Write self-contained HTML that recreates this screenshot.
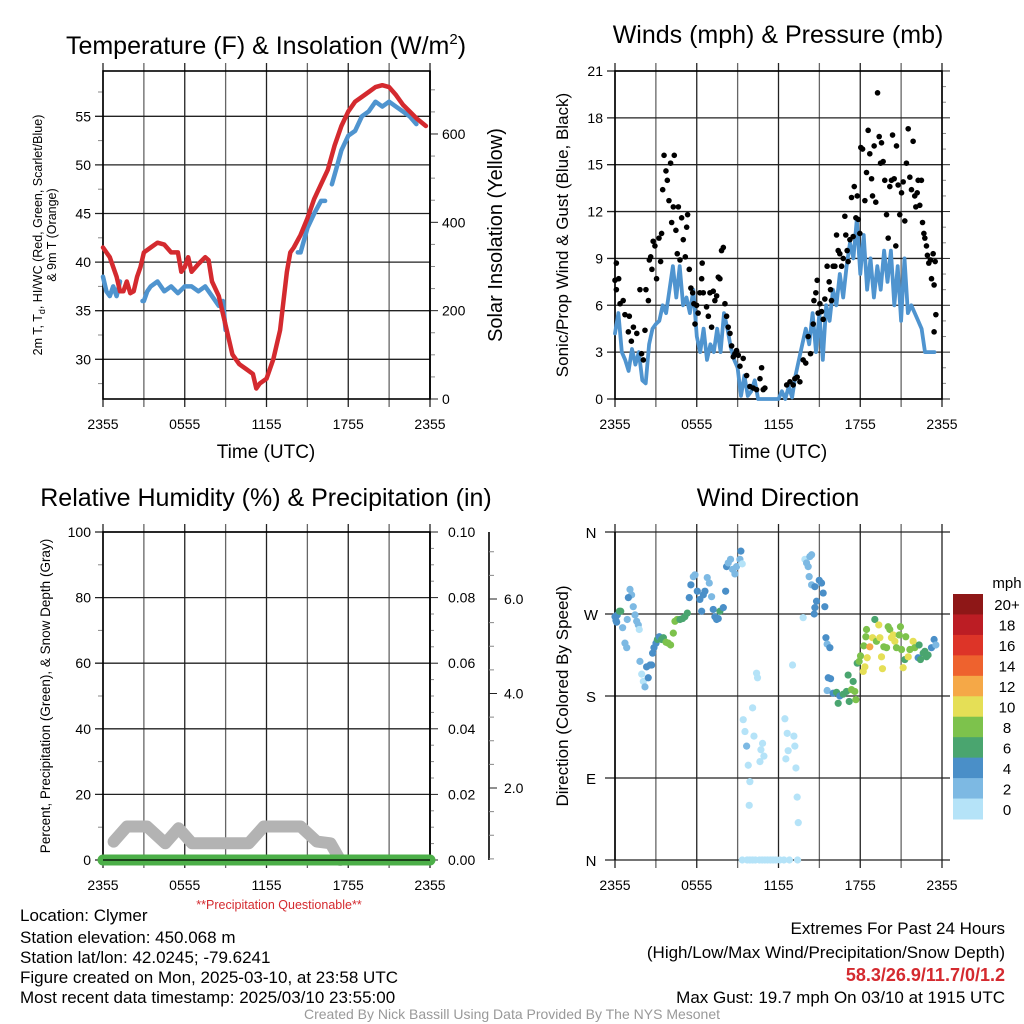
<!DOCTYPE html>
<html><head><meta charset="utf-8"><style>
html,body{margin:0;padding:0;background:#fff;}
svg{display:block;font-family:"Liberation Sans",Arial,sans-serif;}
</style></head><body>
<svg id="s" width="1024" height="1024" viewBox="0 0 1024 1024" xmlns="http://www.w3.org/2000/svg">
<g font-size="25" text-anchor="middle" fill="#000">
<text x="266" y="54">Temperature (F) &amp; Insolation (W/m<tspan font-size="15" dy="-10">2</tspan><tspan dy="10">)</tspan></text>
<text x="778" y="43">Winds (mph) &amp; Pressure (mb)</text>
<text x="266" y="506">Relative Humidity (%) &amp; Precipitation (in)</text>
<text x="778" y="506">Wind Direction</text>
</g>
<g id="layer"></g>
<g font-size="17" fill="#000">
<text x="20" y="921">Location: Clymer</text>
<text x="20" y="943">Station elevation: 450.068 m</text>
<text x="20" y="963">Station lat/lon: 42.0245; -79.6241</text>
<text x="20" y="983">Figure created on Mon, 2025-03-10, at 23:58 UTC</text>
<text x="20" y="1003">Most recent data timestamp: 2025/03/10 23:55:00</text>
<g text-anchor="end">
<text x="1005" y="934">Extremes For Past 24 Hours</text>
<text x="1005" y="958">(High/Low/Max Wind/Precipitation/Snow Depth)</text>
<text x="1005" y="981" fill="#d42a2f" font-weight="bold" font-size="18">58.3/26.9/11.7/0/1.2</text>
<text x="1005" y="1003">Max Gust: 19.7 mph On 03/10 at 1915 UTC</text>
</g>
<text x="279" y="909" font-size="12.5" fill="#d42a2f" text-anchor="middle">**Precipitation Questionable**</text>
<text x="512" y="1019" font-size="14" fill="#999" text-anchor="middle">Created By Nick Bassill Using Data Provided By The NYS Mesonet</text>
</g>
</svg>
<script>
// ---------- DATA ----------
const timeTickLabels=["2355","0555","1155","1755","2355"];
const tempHours=[0,0.25,0.5,0.75,1,1.25,1.5,1.75,2,2.25,2.5,2.75,3,3.5,4,4.5,5,5.5,5.75,6,6.25,6.5,7,7.5,7.75,8,8.5,9,9.5,10,10.5,11,11.25,11.5,12,12.5,13,13.5,13.75,14,14.5,15,15.5,16,16.5,17,17.5,18,18.5,19,19.5,20,20.5,21,21.5,22,22.5,23,23.7];
const tempValues=[41.5,41,40.5,39.5,38.5,37,37,38,36.8,37,38.5,39.5,41,41.5,42,41.8,41,41,39,39.5,40.5,39,39.8,40.5,40.2,38,36.5,33.5,30.5,29.5,29,28.5,27,27.5,28,30,33,39,41,41.5,42.8,44.5,46.5,48,49.5,52,54,55.5,56.5,57,57.5,58,58.2,58,57.2,56.2,55.5,54.8,54];
const hiwcHours=[0,0.25,0.5,0.75,1,1.25,1.4,1.75,1.8,2.25,2.35,2.9,3,3.25,3.5,4,4.5,5,5.5,6,6.5,7,7.5,8,8.5,8.8,9,9.2,14.3,14.5,15,15.5,16,16.3,16.6,16.8,17.2,17.5,18,18.5,19,19.5,20,20.5,21,21.5,22,22.5,23];
const hiwcValues=[38.5,37,36.5,37.5,36.5,38,null,35.3,null,36.8,null,36,36,37,37.5,38,37,37.5,36.8,37.5,37.5,37,37.5,36.5,35.5,36,33,null,41,41,43.5,45,46.3,46.3,null,48,50,51.5,53,53.5,55,55.5,56.5,56,56.5,56,55.5,55,54.2];
const windHours=[0,0.25,0.5,0.75,1,1.25,1.5,1.75,2,2.25,2.5,2.75,3,3.25,3.5,3.75,4,4.25,4.5,4.75,5,5.25,5.5,5.75,6,6.25,6.5,6.75,7,7.25,7.5,7.75,8,8.25,8.5,8.75,9,9.25,9.5,9.75,10,10.25,10.5,11,11.5,12,12.25,12.5,12.75,13,13.25,13.5,13.75,14,14.25,14.5,14.75,15,15.25,15.5,15.75,16,16.25,16.5,16.75,17,17.25,17.5,17.75,18,18.25,18.5,18.75,19,19.25,19.5,19.75,20,20.25,20.5,20.75,21,21.25,21.5,21.75,22,22.25,22.5,22.75,23,23.45];
const windValues=[4.2,5.5,3,2.5,1.8,3.2,2.2,3,1.2,1,3.5,4.5,4.8,5,6,5.5,7,8.5,6.5,8.5,6,6.5,5.5,7,4,3,4.5,2.5,3.5,3,4.5,3,5.5,4.5,3.3,2.5,2,0.2,1.5,0.2,0.5,1.2,0,0,0,0,0.5,0,0.8,0.1,1.5,2.5,3.5,4.5,3.5,5.5,3,5.5,2.5,6,5,7,6,8,6.5,8.5,10,9,11.5,8,10.5,7,9,6.5,8.5,7,9.5,7.5,9.5,6,8.5,5,9,5.5,6,5.5,5,4.5,3,3,3];
const gustHours=[0,0.1,0.1,0.27,0.37,0.6,0.73,0.98,1.05,1.2,1.35,1.6,1.83,1.95,2.08,2.2,2.27,2.45,2.52,2.62,2.71,2.8,2.93,3.05,3.23,3.35,3.42,3.5,3.6,3.74,3.84,3.96,4.08,4.16,4.28,4.35,4.47,4.65,4.57,4.77,4.89,5.01,5.16,5.26,5.33,5.45,5.57,5.7,5.79,5.87,5.99,6.1,6.23,6.4,6.36,6.48,6.72,6.85,6.97,7.09,7.21,7.33,7.46,7.58,7.7,7.82,7.95,8.07,8.19,8.31,8.44,8.56,8.68,8.8,8.92,9.05,9.17,9.41,9.66,9.9,10.15,10.39,10.64,10.76,10.88,11,12.6,12.84,13.08,13.2,13.37,13.57,13.81,14,14.18,14.35,14.55,14.6,14.74,14.84,14.91,15.04,15.16,15.28,15.4,15.57,15.72,15.82,15.89,16.01,16.14,16.26,16.38,16.5,16.63,16.75,16.87,16.94,17.04,17.11,17.24,17.36,17.48,17.56,17.68,17.78,17.85,17.97,18.04,18.17,18.34,18.46,18.58,18.7,18.83,18.9,19.02,19.14,19.27,19.39,19.49,19.56,19.68,19.8,19.93,20.05,20.17,20.29,20.37,20.49,20.61,20.66,20.78,20.9,21.03,21.15,21.27,21.39,21.52,21.64,21.76,21.88,22,22.08,22.18,22.25,22.37,22.49,22.57,22.67,22.74,22.86,22.93,23.03,23.15,23.23,23.35,23.42,23.5,23.55,23.42];
const gustValues=[7.6,8.7,7,7.7,6.1,6.3,5.4,4.3,5.3,3.7,4.6,4.2,7,2.9,2.5,4.4,7,6.3,8.9,9.1,8.3,10.1,9.8,7.7,10.3,8.8,10.6,13.4,15.6,14.6,14,12.7,15.1,11.3,12.3,15.6,10.8,12.3,9.3,8.9,11.6,10.2,9.1,11,11.8,8.3,7.1,6.8,6.1,4.8,6,5.5,6.8,8.7,7.7,6.8,5.9,5.3,6.8,4.6,6.9,6.3,6.6,7.8,7.7,9.5,9.7,6.1,5.3,4.6,4.2,3.4,2.7,2.9,3.1,2.8,2.1,2.6,1.5,0.8,0.7,0.6,1.3,2,0.6,0.7,0.9,1.1,0.9,1.3,1.4,1.1,2.5,2.3,4,2.9,4.8,6.3,6.8,7.6,5.5,6.1,5.6,5.1,6.4,8.5,7.5,7,6.3,8.5,8.5,10.5,9.5,9.3,8.5,9,11.7,10.5,9.5,8.8,10.2,12.9,10.4,13.6,11.6,13,11.5,10.6,16.1,16,12.7,14.5,17.2,15.7,14.1,13,16.2,12.6,19.6,16.8,15.1,16.4,15.2,14,11.8,10.3,13.6,14,16.9,14.1,9.8,16.2,13.7,11.8,13.2,13.9,11.4,15.1,17.3,14.2,13.4,16.5,13,12.3,13.2,14,12.4,14,11.3,10.6,10.3,9.8,9.2,8.7,8.9,7.7,9.3,7.3,8.8,5.4,4.3];
const dirHours=[0,0.07,0.17,0.32,0.42,0.12,1.1,1.22,0.98,1.34,0.9,1.47,1.59,1.71,1.78,0.56,0.73,0.86,1.83,1.96,2.08,2.2,2.32,2.44,2.57,2.69,2.76,2.86,3.01,3.11,3.25,3.42,3.55,3.74,3.91,4.08,4.28,4.4,4.57,4.77,4.96,5.13,5.31,5.45,5.57,5.75,5.87,6.04,6.23,6.36,6.48,6.6,6.77,6.92,7.09,7.21,7.33,7.46,7.58,7.7,7.95,8.12,8.19,8.31,8.48,8.63,8.8,8.92,9.17,9.24,9.34,
9.41,9.54,9.66,9.78,9.9,9.85,10.1,10.2,10.39,10.46,10.71,10.83,10.93,10.64,12.47,12.64,12.71,12.54,13.13,13.2,13.28,13.37,13.45,13.03,13.81,
9.34,9.7,9.9,10.1,10.3,10.6,10.8,11,11.2,11.4,11.6,11.8,12.1,12.4,12.8,13.4,
13.94,14.06,14.18,14.3,14.43,14.25,14.43,14.67,14.99,15.16,15.28,14.79,14.67,14.62,15.4,15.48,15.57,15.77,15.65,15.82,15.57,16.01,16.26,16.38,16.5,16.75,16.99,17.19,17.36,17.48,17.6,17.68,17.11,17.78,17.92,18.02,18.22,18.34,18.51,18.26,18.41,18.46,18.7,18.9,19.07,19.19,19.36,19.44,19.56,19.63,19.73,19.93,20.05,20.17,20.29,20.42,20.54,20.66,20.86,20.95,21.03,21.15,21.27,21.34,21.52,21.64,21.88,22,22.25,22.42,22.32,22.62,22.74,22.86,22.98,23.23,23.42,23.55];
const dirValues=[267,263,269,273,273,261,297,291,288,278,264,269,262,258,253,255,238,233,218,204,196,190,212,200,214,214,227,233,238,242,245,242,244,239,238,236,249,262,264,264,265,267,271,288,302,311,313,295,286,273,291,295,310,304,289,275,267,264,265,273,277,295,322,326,330,319,314,322,330,339,325,
154,141,125,104,86,60,167,136,205,200,121,128,114,108,155,139,120,111,136,125,101,69,41,214,266,
0,0,0,0,0,0,0,0,0,0,0,0,0,0,0,0,
330,326,322,333,335,311,302,300,307,304,293,284,277,270,278,244,237,233,200,199,186,183,184,172,180,182,185,174,187,196,185,176,203,216,218,224,207,212,222,235,245,253,234,244,264,240,258,244,223,210,234,233,256,253,244,247,240,233,247,256,231,211,220,245,223,231,240,233,222,220,236,227,229,223,225,233,242,236];
const dirSpeeds=[5,5,5,7,7,5,3,3,5,3,3,3,3,3,1,3,3,3,3,1,1,3,5,5,5,5,5,5,5,7,5,7,7,9,9,9,9,9,9,7,7,7,7,5,5,3,3,5,5,5,5,5,3,3,3,5,5,5,5,7,5,5,5,3,3,3,3,3,3,5,1,
1,1,3,1,1,1,1,1,1,1,1,1,1,1,1,1,1,1,1,1,1,1,1,1,1,
1,1,1,1,1,1,1,1,1,1,1,1,1,1,1,1,
1,3,3,3,3,3,3,5,5,5,5,5,5,5,5,5,3,5,5,5,3,5,7,7,5,7,7,7,9,7,9,9,7,7,9,9,11,11,11,9,9,9,13,11,7,9,11,11,11,11,9,9,9,9,11,11,11,9,9,9,9,11,7,9,11,9,11,9,5,7,7,7,7,7,7,5,5,3];
const snowHours=[0.78,1.76,3.23,4.57,5.55,6.53,10.7,11.8,14.5,15.7,16.7,17.4];
const snowValues=[5.6,10.2,10.2,5.1,9.7,5.1,5.1,10.2,10.2,5.6,5.1,0];
const precipHours=[0,24];
const precipValues=[0,0];
const speedBins=["0","2","4","6","8","10","12","14","16","18","20+"];
const speedColors=["#b5e3f8","#7db9e3","#4a8fc8","#4aa56f","#7dc24c","#e5df56","#f5a847","#ee622e","#dd3428","#bc1d24","#8e1717"];

// ---------- HELPERS ----------
const NS="http://www.w3.org/2000/svg";
const layer=document.getElementById('layer');
function mk(tag,attrs,parent){const e=document.createElementNS(NS,tag);for(const k in attrs)e.setAttribute(k,attrs[k]);(parent||layer).appendChild(e);return e;}
function line(x1,y1,x2,y2,c,w,p){return mk('line',{x1,y1,x2,y2,stroke:c||'#000','stroke-width':w||1},p);}
function txt(x,y,s,size,anchor,p,extra){const t=mk('text',Object.assign({x,y,'font-size':size,'text-anchor':anchor||'middle',fill:'#000'},extra||{}),p);t.textContent=s;return t;}

const panels={tl:{x0:103,x1:430,y0:71,y1:399},tr:{x0:615,x1:942,y0:71,y1:399},bl:{x0:103,x1:430,y0:532,y1:860},br:{x0:615,x1:942,y0:532,y1:860}};
function xs(P,h){return P.x0+h*(P.x1-P.x0)/24;}
function frame(P,name){
  const g=mk('g',{});
  
  
  for(let i=0;i<=8;i++){const x=xs(P,i*3);line(x,P.y0-8,x,P.y1+8,i%2?'#666':'#222',1.3,g);}
  for(let i=0;i<timeTickLabels.length;i++){txt(xs(P,i*6),P.y1+30,timeTickLabels[i],14,'middle',g);}
  return g;
}
function hgrid(P,y,g){line(P.x0-8,y,P.x1,y,'#222',1.3,g);}
function pathFrom(hours,vals,X,Y){let d='',pen=false;for(let i=0;i<hours.length;i++){if(vals[i]===null){pen=false;continue;}d+=(pen?'L':'M')+X(hours[i]).toFixed(1)+','+Y(vals[i]).toFixed(1);pen=true;}return d;}
function box(P,g){mk('rect',{x:P.x0,y:P.y0,width:P.x1-P.x0,height:P.y1-P.y0,fill:'none',stroke:'#000','stroke-width':1.6},g);}

// ---------- TEMPERATURE PANEL ----------
(function(){
  const P=panels.tl;const g=frame(P,'temperature-chart');
  const Y=v=>359.3-(v-30)*9.72; const YS=w=>399-w*0.4417; const X=h=>xs(P,h);
  for(let v=30;v<=55;v+=5){hgrid(P,Y(v),g);txt(P.x0-12,Y(v)+5,String(v),14,'end',g);}
  for(let v=27.5;v<=57.5;v+=5){line(P.x0-5,Y(v),P.x0,Y(v),'#888',1,g);}
  line(P.x1,P.y0,P.x1,P.y1,'#000',1.6,g);
  for(let w=0;w<=700;w+=50){const big=w%200===0;line(P.x1,YS(w),P.x1+(big?8:5),YS(w),big?'#222':'#888',1,g);if(big)txt(P.x1+12,YS(w)+5,String(w),14,'start',g);}
  box(P,g);
  txt(266,458,'Time (UTC)',19,'middle',g);
  const yt=mk('text',{transform:'translate(42,235) rotate(-90)','font-size':12.5,'text-anchor':'middle',fill:'#000'},g);
  yt.innerHTML='<tspan x="0" y="0">2m T, T<tspan font-size="9" dy="3">d</tspan><tspan dy="-3">, HI/WC (Red, Green, Scarlet/Blue)</tspan></tspan><tspan x="0" y="14">&amp; 9m T (Orange)</tspan>';
  txt(0,0,'Solar Insolation (Yellow)',20,'middle',g,{transform:'translate(502,235) rotate(-90)'});
  const b=mk('path',{d:pathFrom(hiwcHours,hiwcValues,X,Y),fill:'none',stroke:'#4f94cf','stroke-width':4.5,'stroke-linecap':'round','stroke-linejoin':'round'},g);
  
  const r=mk('path',{d:pathFrom(tempHours,tempValues,X,Y),fill:'none',stroke:'#d42a2f','stroke-width':4.5,'stroke-linecap':'round','stroke-linejoin':'round'},g);
  
})();

// ---------- WIND PANEL ----------
(function(){
  const P=panels.tr;const g=frame(P,'wind-chart');
  const Y=v=>399-v*15.62; const X=h=>xs(P,h);
  for(let v=0;v<=21;v+=3){hgrid(P,Y(v),g);txt(P.x0-12,Y(v)+5,String(v),14,'end',g);}
  for(let v=0;v<=21;v+=1){line(P.x1,Y(v),P.x1+(v%3?4:8),Y(v),v%3?'#888':'#222',1,g);}
  box(P,g);
  txt(778,458,'Time (UTC)',19,'middle',g);
  txt(0,0,'Sonic/Prop Wind & Gust (Blue, Black)',17,'middle',g,{transform:'translate(568,235) rotate(-90)'});
  const w=mk('path',{d:pathFrom(windHours,windValues,X,Y),fill:'none',stroke:'#4f94cf','stroke-width':3.8,'stroke-linecap':'round','stroke-linejoin':'round'},g);
  
  for(let i=0;i<gustHours.length;i++){
    const c=mk('circle',{cx:X(gustHours[i]),cy:Y(gustValues[i]),r:2.8,fill:'#000'},g);
    
    
  }
})();

// ---------- RH / PRECIP PANEL ----------
(function(){
  const P=panels.bl;const g=frame(P,'humidity-precip-chart');
  const Y=v=>860-v*3.28; const X=h=>xs(P,h);
  for(let v=0;v<=100;v+=20){hgrid(P,Y(v),g);txt(P.x0-12,Y(v)+5,String(v),14,'end',g);}
  for(let v=10;v<=90;v+=20){line(P.x0-5,Y(v),P.x0,Y(v),'#888',1,g);}
  line(P.x1,P.y0,P.x1,P.y1,'#000',1.6,g);
  for(let k=0;k<=20;k++){const big=k%4===0;line(P.x1,Y(k*5),P.x1+(big?8:4),Y(k*5),big?'#222':'#888',1,g);if(big)txt(P.x1+18,Y(k*5)+5,(k*0.005).toFixed(2),14,'start',g);}
  const SY=v=>788-(v-2)*47.25;
  line(489,P.y0,489,P.y1,'#000',1.6,g);
  for(let v=0.5;v<=7.4;v+=0.5){const big=Math.abs(v%2)<0.01;line(489,SY(v),big?497:494,SY(v),big?'#222':'#888',1,g);if(big)txt(504,SY(v)+5,v.toFixed(1),14,'start',g);}
  box(P,g);
  txt(0,0,'Percent, Precipitation (Green), & Snow Depth (Gray)',13.5,'middle',g,{transform:'translate(50,696) rotate(-90)'});
  const s=mk('path',{d:pathFrom(snowHours,snowValues,X,Y),fill:'none',stroke:'#b3b3b3','stroke-width':12,'stroke-linecap':'round','stroke-linejoin':'round'},g);
  
  const p=mk('path',{d:pathFrom(precipHours,precipValues,X,Y),fill:'none',stroke:'#4caf48','stroke-width':11,'stroke-linecap':'round'},g);
  
  line(P.x0,P.y1,P.x1,P.y1,'#000',1.3,g);
})();

// ---------- WIND DIRECTION PANEL ----------
(function(){
  const P=panels.br;const g=frame(P,'wind-direction-chart');
  const Y=d=>860-d*(328/360); const X=h=>xs(P,h);
  const lab=['N','E','S','W','N'];
  for(let i=0;i<5;i++){const y=Y(i*90);line(P.x0-10,y,P.x1+8,y,'#222',1.3,g);txt(P.x0-24,y+6,lab[i],15,'middle',g);}
  line(P.x0,P.y0,P.x0,P.y1,'#000',1.6,g);
  txt(0,0,'Direction (Colored By Speed)',17,'middle',g,{transform:'translate(568,696) rotate(-90)'});
  const bin=s=>Math.min(10,Math.floor(s/2));
  for(let i=0;i<dirHours.length;i++){
    const c=mk('circle',{cx:X(dirHours[i]),cy:Y(dirValues[i]),r:3.6,fill:speedColors[bin(dirSpeeds[i])]},g);
    
    
  }
  const cb=mk('g',{},layer);
  
  
  const h=225/11;
  for(let i=0;i<11;i++){
    const k=10-i;const y=594+i*h;
    const r=mk('rect',{x:953,y:y,width:30,height:h+0.5,fill:speedColors[k]},cb);
    
    
    txt(1007,y+h/2+6,speedBins[k],15,'middle',cb);
  }
  txt(1007,588,'mph',15,'middle',cb);
})();
</script>
</body></html>
